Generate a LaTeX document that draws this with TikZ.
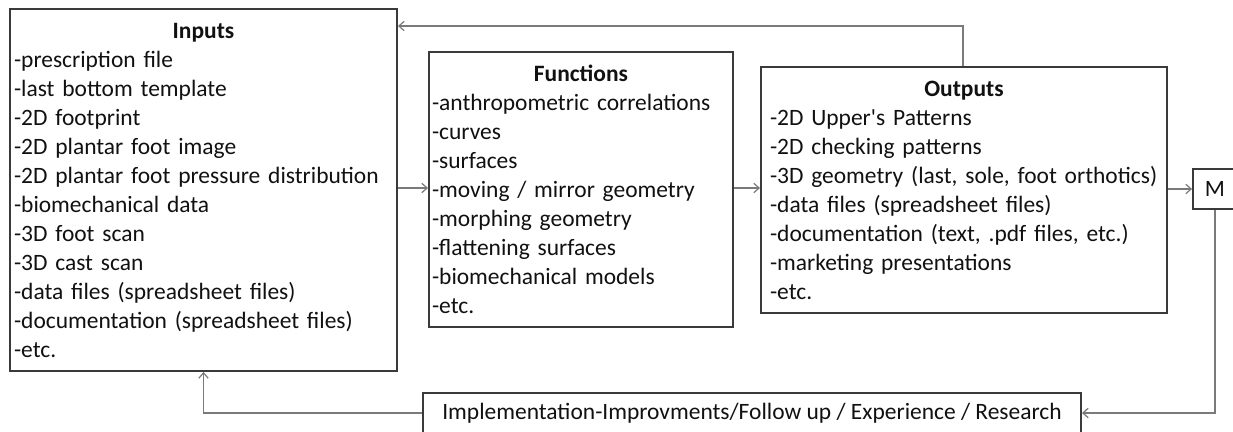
\documentclass[tikz,border=0pt]{standalone}
\usepackage{fontspec}
\setmainfont{Carlito}
\usetikzlibrary{arrows.meta}
\newdimen\pxu \pxu=0.75pt
\newcommand{\itm}[1]{\mbox{#1}}
\definecolor{boxc}{HTML}{3A3A3A}
\definecolor{linec}{HTML}{7A7A7A}
\definecolor{txtc}{HTML}{111111}
\begin{document}
\begin{tikzpicture}[x=0.75pt,y=-0.75pt,
  font=\fontsize{17.6}{21.75}\selectfont,
  box/.style={draw=boxc, line width=1.4pt, text=txtc, align=left, inner ysep=0pt, anchor=center},
  conn/.style={draw=linec, line width=0.9pt, -{Straight Barb[length=4pt,width=7pt]}}]
\useasboundingbox (0,0) rectangle (1233,432);
\clip (0,0) rectangle (1233,432);
\fill[white] (0,0) rectangle (1233,432);

\node[box, text width=379\pxu, inner xsep=4\pxu, minimum height=362\pxu] (in) at (203.5,190)
 {\makebox[\linewidth]{\bfseries Inputs}\\
  \itm{-prescription file}\\
  \itm{-last bottom template}\\
  \itm{-2D footprint}\\
  \itm{-2D plantar foot image}\\
  \itm{-2D plantar foot pressure distribution}\\
  \itm{-biomechanical data}\\
  \itm{-3D foot scan}\\
  \itm{-3D cast scan}\\
  \itm{-data files (spreadsheet files)}\\
  \itm{-documentation (spreadsheet files)}\\
  \itm{-etc.}};

\node[box, text width=298\pxu, inner xsep=3\pxu, minimum height=275\pxu] (fn) at (581,189.5)
 {\makebox[\linewidth]{\bfseries Functions}\\
  \itm{-anthropometric correlations}\\
  \itm{-curves}\\
  \itm{-surfaces}\\
  \itm{-moving / mirror geometry}\\
  \itm{-morphing geometry}\\
  \itm{-flattening surfaces}\\
  \itm{-biomechanical models}\\
  \itm{-etc.}};

\node[box, text width=388\pxu, inner xsep=9\pxu, minimum height=246\pxu] (out) at (964,190)
 {\makebox[\linewidth]{\bfseries Outputs}\\
  \itm{-2D Upper\textquotesingle s Patterns}\\
  \itm{-2D checking patterns}\\
  \itm{-3D geometry (last, sole, foot orthotics)}\\
  \itm{-data files (spreadsheet files)}\\
  \itm{-documentation (text, .pdf files, etc.)}\\
  \itm{-marketing presentations}\\
  \itm{-etc.}};

\node[box, minimum width=44\pxu, minimum height=40\pxu, inner xsep=0pt, align=center] (m) at (1215,189) {M};

\node[box, minimum width=658\pxu, minimum height=40\pxu, align=center] (impl) at (752,413)
 {Implementation-Improvments/Follow up / Experience / Research};

\coordinate (top) at (963,26);
\draw[conn] (in.east |- 0,188) -- (fn.west |- 0,188);
\draw[conn] (fn.east |- 0,188) -- (out.west |- 0,188);
\draw[conn] (out.east |- m.west) -- (m.west);
\draw[conn] (out.north -| top) -- (top) -- (in.east |- top);
\draw[conn] (m.south) |- (impl.east);
\draw[conn] (impl.west) -| (in.south);
\end{tikzpicture}
\end{document}
